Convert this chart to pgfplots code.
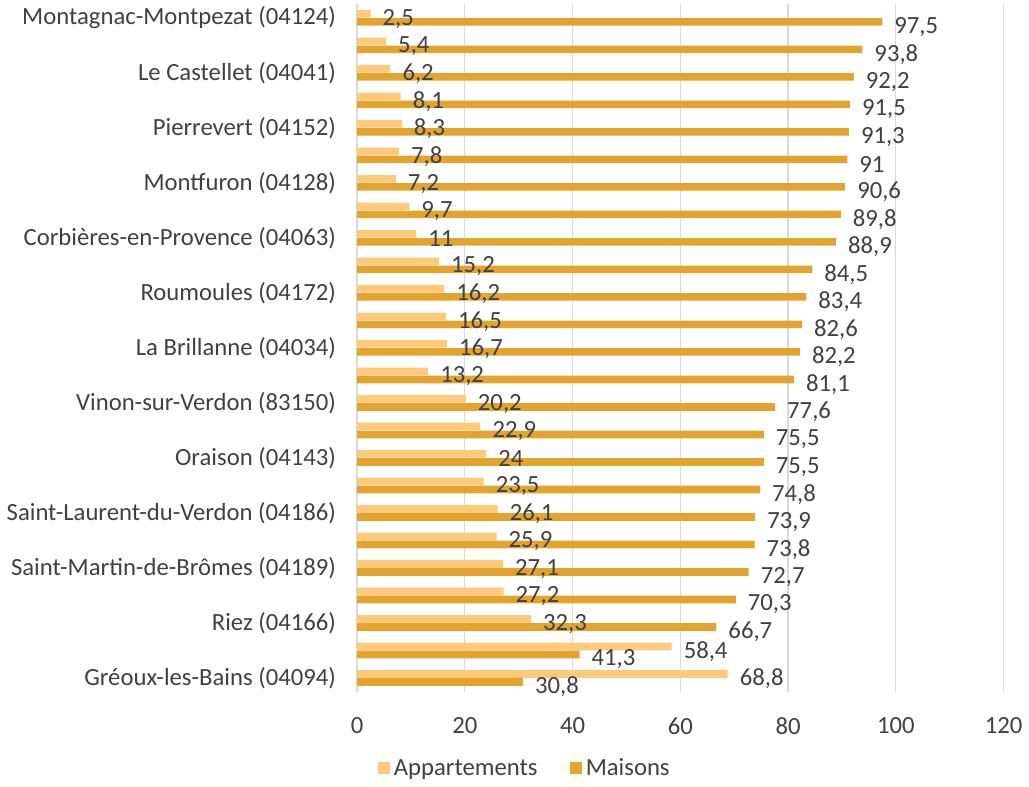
\documentclass[border=0pt]{standalone}
\usepackage{pgfplots}
\pgfplotsset{compat=1.18}
\usepackage{fontspec}
\setmainfont{Carlito}

\definecolor{appart}{HTML}{FFC97C}
\definecolor{maison}{HTML}{E2A42E}
\definecolor{txt}{HTML}{404040}
\definecolor{gridc}{HTML}{D9D9D9}

\begin{document}
\begin{tikzpicture}
\begin{axis}[
    scale only axis,
    width=322pt, height=342.5pt,
    xbar,
    bar width=3.8pt,
    y dir=reverse,
    ymin=-0.5, ymax=24.5,
    xmin=0, xmax=120,
    xtick={0,20,...,120},
    ytick={0,2,...,24},
    yticklabels={Montagnac-Montpezat (04124),Le Castellet (04041),Pierrevert (04152),Montfuron (04128),Corbières-en-Provence (04063),Roumoules (04172),La Brillanne (04034),Vinon-sur-Verdon (83150),Oraison (04143),Saint-Laurent-du-Verdon (04186),Saint-Martin-de-Brômes (04189),Riez (04166),Gréoux-les-Bains (04094)},
    axis line style={draw=none},
    major tick length=0pt,
    xmajorgrids,
    grid style={gridc, line width=0.6pt},
    /pgf/number format/assume math mode=true,
    /pgf/number format/use comma,
    ticklabel style={font=\fontsize{12.3}{14}\selectfont, text=txt},
    yticklabel style={xshift=-7pt},
    xticklabel style={yshift=-9.5pt},
    nodes near coords,
    every node near coord/.append style={font=\fontsize{12.3}{14}\selectfont, text=txt, xshift=2.5pt, yshift=-2.5pt},
    legend style={draw=none, at={(0.261,-0.112)}, anchor=center, legend columns=2,
        font=\fontsize{12.3}{14}\selectfont, text=txt,
        /tikz/every even column/.append style={column sep=14pt}},
    legend image code/.code={\fill[#1,draw=none] (0pt,-2.6pt) rectangle (6pt,3.4pt);},
]
\addplot[fill=appart, draw=none, bar shift=2pt] coordinates {
(2.5,0) (5.4,1) (6.2,2) (8.1,3) (8.3,4) (7.8,5) (7.2,6) (9.7,7) (11,8)
(15.2,9) (16.2,10) (16.5,11) (16.7,12) (13.2,13) (20.2,14) (22.9,15)
(24,16) (23.5,17) (26.1,18) (25.9,19) (27.1,20) (27.2,21) (32.3,22)
(58.4,23) (68.8,24)
};
\addplot[fill=maison, draw=none, bar shift=-2pt] coordinates {
(97.5,0) (93.8,1) (92.2,2) (91.5,3) (91.3,4) (91,5) (90.6,6) (89.8,7) (88.9,8)
(84.5,9) (83.4,10) (82.6,11) (82.2,12) (81.1,13) (77.6,14) (75.5,15)
(75.5,16) (74.8,17) (73.9,18) (73.8,19) (72.7,20) (70.3,21) (66.7,22)
(41.3,23) (30.8,24)
};
\legend{Appartements, Maisons}
\end{axis}
\end{tikzpicture}
\end{document}
